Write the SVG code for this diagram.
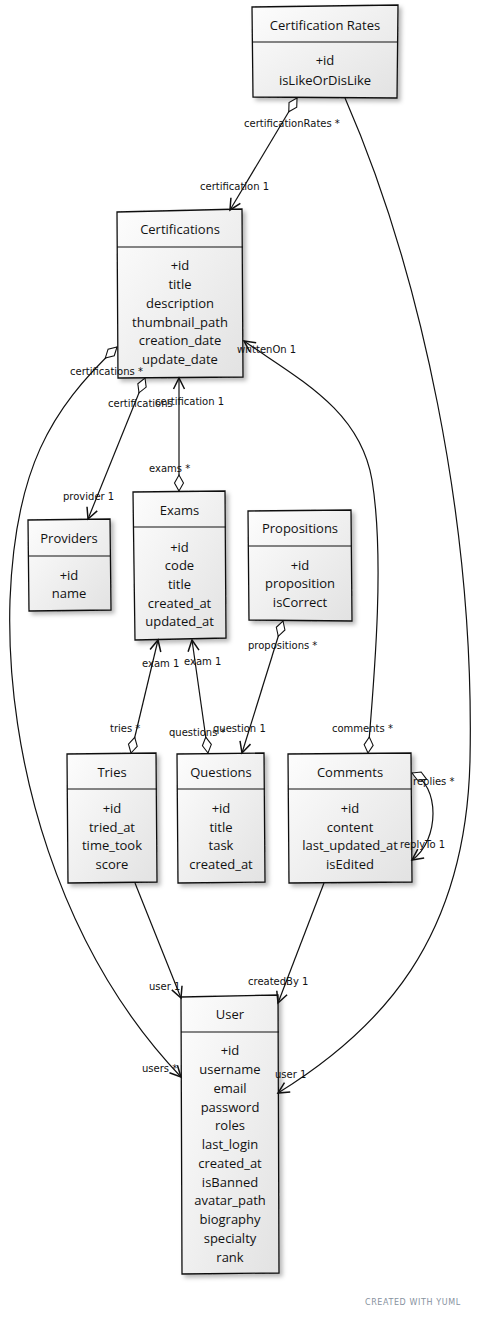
<svg xmlns="http://www.w3.org/2000/svg" width="486" height="1318" viewBox="0 0 486 1318">
  <defs>
    <linearGradient id="boxFill" x1="0" y1="0" x2="1" y2="1">
      <stop offset="0" stop-color="#fdfdfd"/>
      <stop offset="1" stop-color="#e2e2e2"/>
    </linearGradient>
    <filter id="shadow" x="-10%" y="-10%" width="130%" height="130%">
      <feDropShadow dx="3" dy="3" stdDeviation="2" flood-color="#000" flood-opacity="0.28"/>
    </filter>
    <marker id="arrow" markerUnits="userSpaceOnUse" markerWidth="14" markerHeight="14" refX="0" refY="0" orient="auto" overflow="visible">
      <path d="M-11,-5.5 L0,0 L-11,5.5" fill="none" stroke="#111" stroke-width="1.5" stroke-linejoin="miter"/>
    </marker>
    <marker id="diamond" markerUnits="userSpaceOnUse" markerWidth="18" markerHeight="12" refX="0" refY="0" orient="auto" overflow="visible">
      <path d="M0,0 L8,-4.5 L16,0 L8,4.5 Z" fill="#fff" stroke="#111" stroke-width="1.1"/>
    </marker>
    <style>
      .box { fill: url(#boxFill); stroke: #111; stroke-width: 1.3; filter: url(#shadow); }
      .div { stroke: #111; stroke-width: 1.2; fill: none; }
      .t { font-family: "Open Sans", "DejaVu Sans", sans-serif; font-size: 13px; fill: #111; text-anchor: middle; }
      .l { font-family: "DejaVu Sans", sans-serif; font-size: 10px; fill: #111; }
      .edge { fill: none; stroke: #111; stroke-width: 1.2; }
      .agg { marker-start: url(#diamond); }
      .nav { marker-end: url(#arrow); }
      .foot { font-family: "DejaVu Sans", sans-serif; font-size: 8px; fill: #8792a0; letter-spacing: 0.6px; }
    </style>
  </defs>

  <rect x="0" y="0" width="486" height="1318" fill="#fff"/>

  <g id="certification-rates">
    <path class="box" d="M252,7 L398,5 L397,98 L253,97 Z"/>
    <path class="div" d="M252,42 L397,42"/>
    <text class="t" x="325" y="30">Certification Rates</text>
    <text class="t" x="325" y="65">+id</text>
    <text class="t" x="325" y="85">isLikeOrDisLike</text>
  </g>

  <g id="certifications">
    <path class="box" d="M117,212 L242,209 L243,377 L118,378 Z"/>
    <path class="div" d="M117,247 L243,247"/>
    <text class="t" x="180" y="234">Certifications</text>
    <text class="t" x="180" y="270">+id</text>
    <text class="t" x="180" y="289">title</text>
    <text class="t" x="180" y="308">description</text>
    <text class="t" x="180" y="327">thumbnail_path</text>
    <text class="t" x="180" y="345">creation_date</text>
    <text class="t" x="180" y="364">update_date</text>
  </g>

  <g id="providers">
    <path class="box" d="M28,520 L110,519 L111,610 L29,611 Z"/>
    <path class="div" d="M28,556 L111,556"/>
    <text class="t" x="69" y="543">Providers</text>
    <text class="t" x="69" y="580">+id</text>
    <text class="t" x="69" y="598">name</text>
  </g>

  <g id="exams">
    <path class="box" d="M133,492 L225,491 L226,638 L135,640 Z"/>
    <path class="div" d="M133,527 L226,527"/>
    <text class="t" x="179.5" y="515">Exams</text>
    <text class="t" x="179.5" y="552">+id</text>
    <text class="t" x="179.5" y="570">code</text>
    <text class="t" x="179.5" y="589">title</text>
    <text class="t" x="179.5" y="608">created_at</text>
    <text class="t" x="179.5" y="626">updated_at</text>
  </g>

  <g id="propositions">
    <path class="box" d="M248,511 L351,510 L352,621 L249,620 Z"/>
    <path class="div" d="M248,546 L352,546"/>
    <text class="t" x="300" y="533">Propositions</text>
    <text class="t" x="300" y="570">+id</text>
    <text class="t" x="300" y="588">proposition</text>
    <text class="t" x="300" y="607">isCorrect</text>
  </g>

  <g id="tries">
    <path class="box" d="M67,754 L156,753 L157,882 L68,883 Z"/>
    <path class="div" d="M67,789 L157,789"/>
    <text class="t" x="112" y="777">Tries</text>
    <text class="t" x="112" y="813">+id</text>
    <text class="t" x="112" y="832">tried_at</text>
    <text class="t" x="112" y="850">time_took</text>
    <text class="t" x="112" y="869">score</text>
  </g>

  <g id="questions">
    <path class="box" d="M177,754 L264,753 L265,882 L178,883 Z"/>
    <path class="div" d="M177,789 L265,789"/>
    <text class="t" x="221" y="777">Questions</text>
    <text class="t" x="221" y="813">+id</text>
    <text class="t" x="221" y="832">title</text>
    <text class="t" x="221" y="850">task</text>
    <text class="t" x="221" y="869">created_at</text>
  </g>

  <g id="comments">
    <path class="box" d="M288,754 L411,753 L412,882 L289,883 Z"/>
    <path class="div" d="M288,789 L412,789"/>
    <text class="t" x="350" y="777">Comments</text>
    <text class="t" x="350" y="813">+id</text>
    <text class="t" x="350" y="832">content</text>
    <text class="t" x="350" y="850">last_updated_at</text>
    <text class="t" x="350" y="869">isEdited</text>
  </g>

  <g id="user">
    <path class="box" d="M181,997 L278,995 L279,1273 L182,1274 Z"/>
    <path class="div" d="M181,1032 L279,1032"/>
    <text class="t" x="230" y="1019">User</text>
    <text class="t" x="230" y="1055">+id</text>
    <text class="t" x="230" y="1074">username</text>
    <text class="t" x="230" y="1093">email</text>
    <text class="t" x="230" y="1112">password</text>
    <text class="t" x="230" y="1130">roles</text>
    <text class="t" x="230" y="1149">last_login</text>
    <text class="t" x="230" y="1168">created_at</text>
    <text class="t" x="230" y="1187">isBanned</text>
    <text class="t" x="230" y="1205">avatar_path</text>
    <text class="t" x="230" y="1224">biography</text>
    <text class="t" x="230" y="1243">specialty</text>
    <text class="t" x="230" y="1262">rank</text>
  </g>

  <!-- associations, drawn over the class boxes -->
  <g id="connectors">
    <path class="edge agg nav" d="M297,98 L230,210"/>
    <path class="edge nav" d="M345,98 C420,270 475,520 470,760 C466,940 380,1030 278,1093"/>
    <path class="edge agg nav" d="M117,347 C50,410 15,470 10,600 C5,760 60,950 181,1077"/>
    <path class="edge agg nav" d="M145,378 L88,519"/>
    <path class="edge agg nav" d="M179,491 L179,378"/>
    <path class="edge agg nav" d="M131,753 L158,640"/>
    <path class="edge agg nav" d="M208,753 L192,640"/>
    <path class="edge agg nav" d="M283,621 L242,753"/>
    <path class="edge agg nav" d="M368,753 C374,680 385,560 372,480 C360,410 300,380 244,341"/>
    <path class="edge agg nav" d="M412,773 C440,785 440,840 412,860"/>
    <path class="edge nav" d="M135,883 L181,998"/>
    <path class="edge nav" d="M324,883 L278,1003"/>

    <text class="l" x="244" y="127">certificationRates *</text>
    <text class="l" x="200" y="190">certification 1</text>
    <text class="l" x="70" y="375">certifications *</text>
    <text class="l" x="108" y="407">certifications</text>
    <text class="l" x="155" y="405">certification 1</text>
    <text class="l" x="63" y="500">provider 1</text>
    <text class="l" x="149" y="472">exams *</text>
    <text class="l" x="142" y="667">exam 1</text>
    <text class="l" x="184" y="665">exam 1</text>
    <text class="l" x="110" y="732">tries *</text>
    <text class="l" x="169" y="736">questions *</text>
    <text class="l" x="213" y="732">question 1</text>
    <text class="l" x="248" y="649">propositions *</text>
    <text class="l" x="332" y="732">comments *</text>
    <text class="l" x="413" y="785">replies *</text>
    <text class="l" x="400" y="848">replyTo 1</text>
    <text class="l" x="237" y="353">writtenOn 1</text>
    <text class="l" x="149" y="990">user 1</text>
    <text class="l" x="248" y="985">createdBy 1</text>
    <text class="l" x="142" y="1072">users *</text>
    <text class="l" x="275" y="1078">user 1</text>
  </g>

  <text class="foot" x="365" y="1305">CREATED WITH YUML</text>
</svg>
